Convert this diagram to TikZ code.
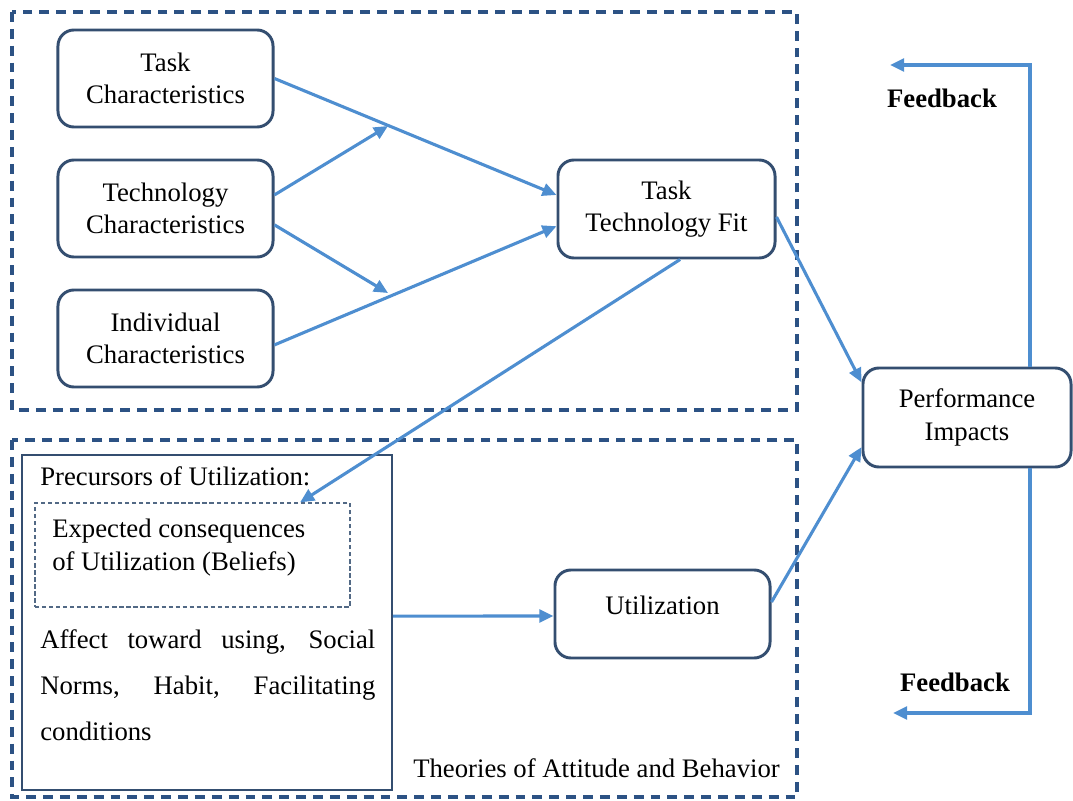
\documentclass[tikz,border=0pt]{standalone}
\usepackage{fontspec}
\setmainfont{Liberation Serif}
\usepackage{tikz}
\usetikzlibrary{arrows.meta}

\definecolor{linkblue}{RGB}{78,142,208}
\definecolor{boxedge}{RGB}{52,78,112}
\definecolor{dashedge}{RGB}{44,82,132}

\begin{document}
\begin{tikzpicture}[x=0.025cm, y=-0.025cm, font=\fontsize{19}{23}\selectfont,
  box/.style={draw=boxedge, line width=2.1pt, rounded corners=0.4cm, align=center, fill=white},
  link/.style={draw=linkblue, line width=2.2pt, -{Triangle[length=10pt,width=9pt]}},
  frame/.style={draw=dashedge, line width=2.2pt, dash pattern=on 7pt off 5pt}]
  \useasboundingbox (0,0) rectangle (1073,801);
  \draw[frame] (12,12) rectangle (797,410);
  \draw[frame] (12,440) rectangle (797,797);

  \node[box, minimum width=5.375cm, minimum height=2.425cm] (task) at (165.5,78.5) {Task\\Characteristics};
  \node[box, minimum width=5.375cm, minimum height=2.425cm] (tech) at (165.5,208.5) {Technology\\Characteristics};
  \node[box, minimum width=5.375cm, minimum height=2.425cm] (indiv) at (165.5,338.5) {Individual\\Characteristics};
  \node[box, minimum width=5.425cm, minimum height=2.45cm] (ttf) at (666.5,209) {Task\\Technology Fit};
  \node[box, minimum width=5.2cm, minimum height=2.475cm] (perf) at (967,417.5) {Performance\\Impacts};
  \node[box, minimum width=5.375cm, minimum height=2.2cm, text depth=0.45cm] (util) at (662.5,614) {Utilization};

  \node[draw=boxedge, line width=1.6pt, minimum width=9.25cm, minimum height=8.375cm] (prec) at (207,622.5) {};
  \node[anchor=base west, inner sep=0] (prectitle) at (40,485) {Precursors of Utilization:};
  \node[draw=boxedge!85, densely dashed, line width=0.9pt, minimum width=7.875cm, minimum height=2.6cm] (belief) at (192.5,555) {};
  \node[anchor=north west, align=left, inner sep=0] (belieftext) at (52,519) {Expected consequences\\of Utilization (Beliefs)};
  \node[anchor=north west, text width=8.375cm, align=justify, inner sep=0, font=\fontsize{19}{33}\selectfont] (affect) at (40,629)
    {Affect toward using, Social\linebreak Norms, Habit, Facilitating\linebreak conditions};
  \node[anchor=base west, inner sep=0] (theories) at (413,777) {Theories of Attitude and Behavior};

  \node[font=\bfseries\fontsize{19}{23}\selectfont] (fbtext1) at (942,98) {Feedback};
  \node[font=\bfseries\fontsize{19}{23}\selectfont] (fbtext2) at (955,682) {Feedback};

  \coordinate (m1) at (388,126);
  \coordinate (m2) at (388,293);
  \coordinate (fbtop) at (890,65);
  \coordinate (fbbot) at (893,713);

  \draw[link] (task.east) -- ([yshift=0.35cm]ttf.west);
  \draw[link] ([yshift=0.34cm]tech.east) -- (m1);
  \draw[link] ([yshift=-0.41cm]tech.east) -- (m2);
  \draw[link] ([yshift=-0.16cm]indiv.east) -- ([yshift=-0.43cm]ttf.west);
  \draw[link] ([xshift=0.34cm]ttf.south) -- ([xshift=2.69cm]belief.north);
  \draw[link] ([yshift=-0.2cm]ttf.east) -- ([yshift=0.88cm]perf.west);
  \draw[link] ([yshift=0.3cm]util.east) -- ([yshift=-0.74cm]perf.west);
  \draw[link] ([yshift=0.16cm]prec.east) -- ([yshift=-0.05cm]util.west);
  \draw[link] ([xshift=1.575cm]perf.north) |- (fbtop);
  \draw[link] ([xshift=1.575cm]perf.south) |- (fbbot);
\end{tikzpicture}
\end{document}
